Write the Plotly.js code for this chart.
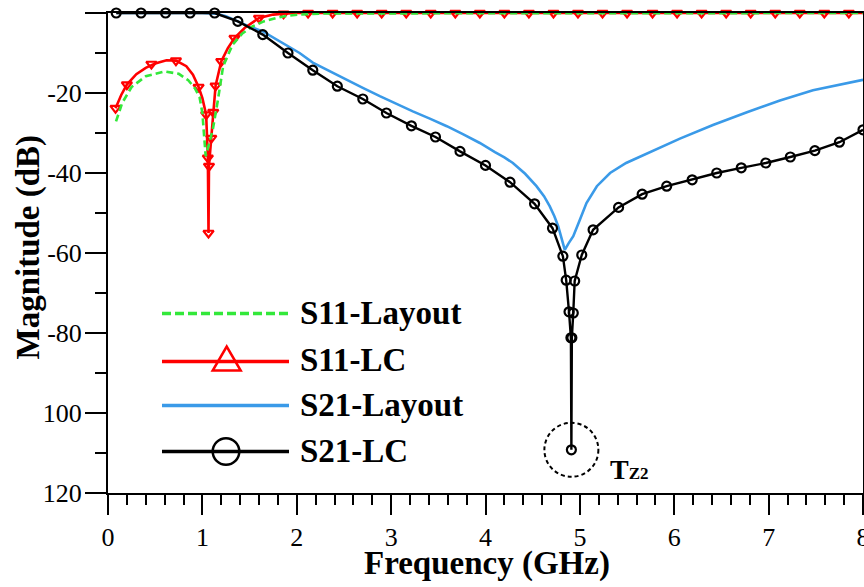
<!DOCTYPE html>
<html><head><meta charset="utf-8">
<script src="https://cdn.plot.ly/plotly-3.0.1.min.js"></script>
<style>html,body{margin:0;padding:0;background:#fff}</style>
</head><body><div id="chart" style="width:864px;height:587px"></div>
<script>
// ---- data ----
const seriesNames = ['S11-Layout', 'S11-LC', 'S21-Layout', 'S21-LC'];

const s11LayoutX = [0.085,0.15,0.25,0.4,0.6,0.75,0.85,0.92,0.97,1.0,1.035,1.07,1.11,1.165,1.22,1.32,1.42,1.535,1.65,1.78,1.9,2.03,2.3,8.0];
const s11LayoutY = [-27.1,-22.5,-18.5,-15.8,-14.6,-15.2,-16.8,-18.8,-21,-25,-35.8,-33,-29.2,-21.7,-13.3,-7.9,-5.2,-3.3,-2.1,-1.25,-0.7,-0.4,-0.1,0];

const s11LcLineX = [0.08,0.14,0.2,0.3,0.4,0.5,0.62,0.72,0.83,0.9,0.96,1.0,1.04,1.058,1.065,1.07,1.094,1.115,1.14,1.2,1.27,1.34,1.45,1.6,1.75,1.86,2.0,8.0];
const s11LcLineY = [-23.8,-20.5,-17.9,-15.3,-13.7,-12.6,-11.8,-11.9,-13.3,-15.4,-18.5,-21.3,-25.4,-36.2,-55,-38.3,-31.3,-24.8,-18.2,-12.1,-8.8,-6.25,-3.7,-1.25,-0.4,-0.2,0,0];
const s11LcMarkX = [0.08,0.2,0.46,0.72,0.96,1.04,1.058,1.065,1.07,1.094,1.115,1.14,1.2,1.34,1.6,1.86,2.12,2.38,2.64,2.9,3.16,3.42,3.68,3.94,4.2,4.46,4.72,4.98,5.24,5.5,5.77,6.03,6.29,6.55,6.81,7.07,7.33,7.59,7.85];
const s11LcMarkY = [-23.8,-17.9,-12.75,-11.9,-18.5,-25.4,-36.2,-55,-38.3,-31.3,-24.8,-18.2,-12.1,-6.25,-1.25,-0.2,0,0,0,0,0,0,0,0,0,0,0,0,0,0,0,0,0,0,0,0,0,0,0];

const s21LayoutX = [0.09,0.5,1.0,1.15,1.25,1.376,1.5,1.64,1.78,1.9,2.03,2.17,2.35,2.53,2.7,2.88,3.05,3.23,3.41,3.59,3.76,3.94,4.1,4.2,4.29,4.42,4.54,4.62,4.68,4.73,4.77,4.81,4.84,4.88,4.93,5.0,5.07,5.18,5.32,5.49,5.67,5.85,6.06,6.41,6.77,7.12,7.47,8.0];
const s21LayoutY = [0,0,0,-0.2,-0.8,-2.1,-3.4,-4.6,-6.5,-8.2,-10,-12.4,-14.6,-16.7,-18.7,-20.8,-22.7,-24.6,-26.4,-28.3,-30.3,-32.5,-34.8,-36.1,-37.5,-40.2,-43.3,-45.8,-48.3,-50.8,-53.3,-56.5,-59.2,-57.6,-55.8,-51.7,-47.5,-43.3,-40,-37.5,-35.6,-33.6,-31.4,-28.0,-24.8,-21.9,-19.3,-16.7];

const s21LcX = [0.087,0.35,0.61,0.87,1.13,1.376,1.64,1.907,2.17,2.43,2.70,2.95,3.215,3.47,3.73,4.0,4.26,4.52,4.71,4.82,4.855,4.885,4.905,4.91,4.915,4.93,4.945,5.02,5.14,5.41,5.66,5.92,6.19,6.45,6.71,6.97,7.23,7.49,7.75,8.0];
const s21LcY = [0,0,0,0,0,-2.1,-5.4,-10,-14.3,-18.3,-21.5,-25,-28.2,-31,-34.6,-38.1,-42.3,-47.7,-53.8,-60.8,-66.8,-74.7,-81.2,-109.2,-81.2,-75,-67,-60.5,-54.2,-48.6,-45.3,-43.3,-41.7,-40,-38.7,-37.5,-36,-34.4,-32.3,-29.2];

const xTickVals = [0,1,2,3,4,5,6,7,8];
const xTickText = ['0','1','2','3','4','5','6','7','8'];
const yTickVals = [0,-20,-40,-60,-80,-100,-120];
const yTickText = ['0','-20','-40','-60','-80','100','120'];

const xTitle = 'Frequency (GHz)';
const yTitle = 'Magnitude (dB)';
const notchX = 4.91, notchY = -109.2;

// ---- styling ----
const cGreen = '#33e83a', cRed = '#ff0000', cBlue = '#3a9ae8', cBlack = '#000000';
const FONT = 'Liberation Serif';
const L = 108, R = 1, T = 13, B = 94, W = 864, H = 587;
const PW = W - L - R, PH = H - T - B;
const px = v => (v - L) / PW;
const py = v => (H - B - v) / PH;

const traces = [
  {x: s21LayoutX, y: s21LayoutY, name: seriesNames[2], mode: 'lines', line: {color: cBlue, width: 2.6}, cliponaxis: false},
  {x: s11LcLineX, y: s11LcLineY, name: seriesNames[1], mode: 'lines', line: {color: cRed, width: 2.6}, cliponaxis: false},
  {x: s11LcMarkX, y: s11LcMarkY, name: seriesNames[1], mode: 'markers',
   marker: {symbol: 'triangle-down-open', size: 9, color: cRed, line: {color: cRed, width: 2.2}}, cliponaxis: false},
  {x: s11LayoutX, y: s11LayoutY, name: seriesNames[0], mode: 'lines', line: {color: cGreen, width: 2.6, dash: '7px,4px'}, cliponaxis: false},
  {x: s21LcX, y: s21LcY, name: seriesNames[3], mode: 'lines+markers', line: {color: cBlack, width: 2.4},
   marker: {symbol: 'circle-open', size: 9, color: cBlack, line: {color: cBlack, width: 2.2}}, cliponaxis: false}
];

// manual legend
const legendRows = [
  {y: 313.5, color: cGreen, dash: '9px,4px', text: seriesNames[0], sym: null},
  {y: 361.5, color: cRed, dash: 'solid', text: seriesNames[1], sym: 'tri'},
  {y: 405.5, color: cBlue, dash: 'solid', text: seriesNames[2], sym: null},
  {y: 451.5, color: cBlack, dash: 'solid', text: seriesNames[3], sym: 'circ'}
];
const shapes = [];
const annotations = [];
legendRows.forEach(r => {
  shapes.push({type: 'line', xref: 'paper', yref: 'paper', x0: px(162), x1: px(289), y0: py(r.y), y1: py(r.y),
    line: {color: r.color, width: 3.5, dash: r.dash}});
  if (r.sym === 'tri') {
    shapes.push({type: 'path', xref: 'paper', yref: 'paper', xsizemode: 'pixel', ysizemode: 'pixel',
      xanchor: px(226.7), yanchor: py(r.y - 3), path: 'M-14,-12L14,-12L0,12Z', fillcolor: 'rgba(0,0,0,0)',
      line: {color: r.color, width: 2.5}});
  }
  if (r.sym === 'circ') {
    shapes.push({type: 'circle', xref: 'paper', yref: 'paper', xsizemode: 'pixel', ysizemode: 'pixel',
      xanchor: px(226), yanchor: py(r.y), x0: -13.3, x1: 13.3, y0: -13.3, y1: 13.3, fillcolor: 'rgba(0,0,0,0)',
      line: {color: r.color, width: 2.5}});
  }
  annotations.push({xref: 'paper', yref: 'paper', x: px(298), y: py(r.y - 1), xanchor: 'left', yanchor: 'middle',
    text: '<b>' + r.text + '</b>', showarrow: false, font: {family: FONT, size: 33, color: '#000'}});
});

// axis titles placed exactly
annotations.push({xref: 'paper', yref: 'paper', x: px(28), y: py(247.5), xanchor: 'center', yanchor: 'middle',
  textangle: -90, text: '<b>' + yTitle + '</b>', showarrow: false, font: {family: FONT, size: 33, color: '#000'}});
annotations.push({xref: 'paper', yref: 'paper', x: px(486.5), y: py(563), xanchor: 'center', yanchor: 'middle',
  text: '<b>' + xTitle + '</b>', showarrow: false, font: {family: FONT, size: 33, color: '#000'}});

// dashed circle around transmission zero
shapes.push({type: 'circle', xref: 'x', yref: 'y', xsizemode: 'pixel', ysizemode: 'pixel',
  xanchor: notchX, yanchor: notchY, x0: -27, x1: 27, y0: -27, y1: 27, fillcolor: 'rgba(0,0,0,0)',
  line: {color: '#000', width: 2, dash: '4px,3px'}});
annotations.push({xref: 'paper', yref: 'paper', x: px(608), y: py(487), xanchor: 'left', yanchor: 'bottom',
  text: '<b>T<span style="font-size:17px">Z2</span></b>', showarrow: false, font: {family: FONT, size: 28, color: '#000'}});

const layout = {
  width: W, height: H,
  margin: {l: L, r: R, t: T, b: B, pad: 0},
  paper_bgcolor: '#fff', plot_bgcolor: '#fff',
  showlegend: false,
  font: {family: FONT, color: '#000'},
  xaxis: {
    range: [0, 8], tickvals: xTickVals, ticktext: xTickText, ticklabeloverflow: 'allow',
    ticks: 'outside', ticklen: 20, tickwidth: 2, tickcolor: '#000',
    minor: {dtick: 0.2, tick0: 0, ticks: 'outside', ticklen: 10, tickwidth: 2, tickcolor: '#000', showgrid: false},
    showline: true, linecolor: '#000', linewidth: 2, mirror: true, showgrid: false, zeroline: false,
    tickfont: {family: FONT, size: 26, color: '#000'}, ticklabelstandoff: 0
  },
  yaxis: {
    range: [-120, 0], tickvals: yTickVals, ticktext: yTickText,
    ticks: 'outside', ticklen: 21, tickwidth: 2, tickcolor: '#000',
    minor: {dtick: 10, tick0: 0, ticks: 'outside', ticklen: 11, tickwidth: 2, tickcolor: '#000', showgrid: false},
    showline: true, linecolor: '#000', linewidth: 2, mirror: true, showgrid: false, zeroline: false,
    tickfont: {family: FONT, size: 26, color: '#000'}, ticklabelstandoff: -2
  },
  shapes: shapes,
  annotations: annotations
};

Plotly.newPlot('chart', traces, layout, {displayModeBar: false, staticPlot: true});
</script></body></html>
